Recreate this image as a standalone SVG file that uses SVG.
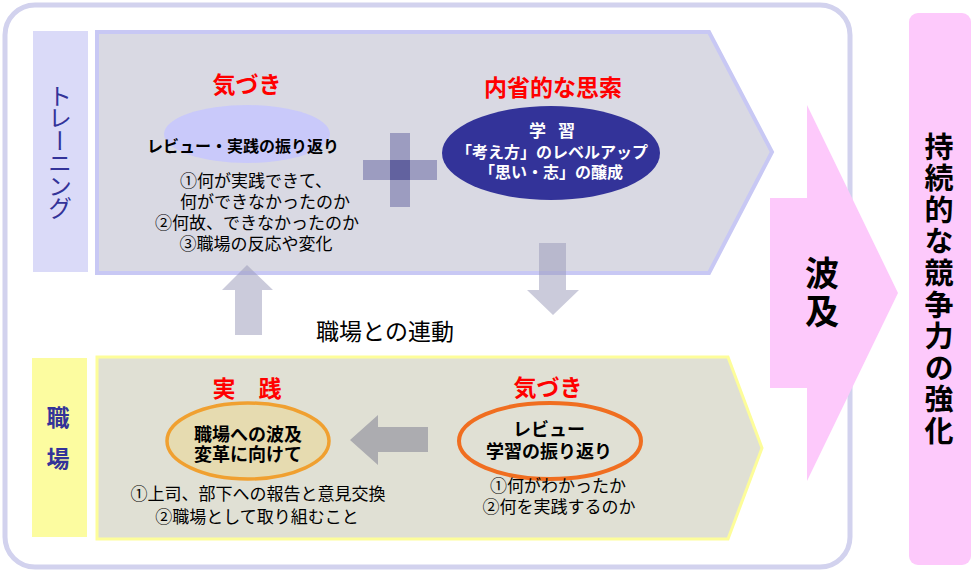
<svg xmlns="http://www.w3.org/2000/svg" width="978" height="577" viewBox="0 0 978 577">
<style>
text{font-family:"Noto Sans CJK JP","Noto Sans CJK SC",sans-serif;text-anchor:middle;fill:#000}
.b{font-weight:bold}
.red{fill:#ff0000;font-weight:bold;font-size:23px}
.lst{font-size:17px}
.wht{fill:#ffffff;font-weight:bold;font-size:16px}
.vert{writing-mode:vertical-rl}
.arr{fill:#9898b8;fill-opacity:0.5}
</style>
<rect x="0" y="0" width="978" height="577" fill="#ffffff"/>
<g id="frame">
<rect x="5" y="5" width="845" height="562" rx="30" ry="30" fill="#ffffff" stroke="#d2d2ee" stroke-width="5"/>
</g>
<g id="label-training">
<rect x="33" y="31" width="55" height="241" fill="#dadaf8"/>
<text x="60" y="151" class="vert" font-size="24" letter-spacing="-1.5" style="fill:#333399">トレーニング</text>
</g>
<g id="training-panel">
<polygon points="97,32 709,32 772,152 709,273 97,273" fill="#d9d9e3" stroke="#c8c8f4" stroke-width="4"/>
</g>
<g id="node-kizuki-top">
<ellipse cx="247" cy="134" rx="83" ry="29" fill="#c9c9fa"/>
<text x="247" y="93" class="red">気づき</text>
<text x="243" y="152" class="b" font-size="16">レビュー・実践の振り返り</text>
<text class="lst"><tspan x="256" y="187">①何が実践できて、</tspan><tspan x="265" y="208">何ができなかったのか</tspan><tspan x="257" y="229">②何故、できなかったのか</tspan><tspan x="256" y="250">③職場の反応や変化</tspan></text>
</g>
<g id="plus">
<rect x="390" y="133" width="20" height="74" fill="#9c9cc0"/>
<rect x="363" y="160" width="74" height="20" fill="#9c9cc0"/>
<rect x="390" y="160" width="20" height="20" fill="#62629f"/>
</g>
<g id="node-naisei">
<text x="553" y="96" class="red" font-size="24">内省的な思索</text>
<ellipse cx="551" cy="153" rx="109" ry="47" fill="#333399"/>
<text class="wht"><tspan x="552" y="137" font-size="17">学<tspan dx="12">習</tspan></tspan><tspan x="552" y="158">「考え方」のレベルアップ</tspan><tspan x="551" y="178">「思い・志」の醸成</tspan></text>
</g>
<g id="label-shokuba">
<rect x="32" y="358" width="55" height="179" fill="#fcfca0"/>
<text x="58" y="447" class="b vert" font-size="23" letter-spacing="18" style="fill:#333399">職場</text>
</g>
<g id="workplace-panel">
<polygon points="97,357 728,357 762,448 728,539 97,539" fill="#e0e0d4" stroke="#fdfd9a" stroke-width="3"/>
</g>
<g id="node-jissen">
<text x="247" y="397" class="red" font-size="24">実　践</text>
<ellipse cx="248" cy="441" rx="81" ry="38" fill="#e6dbb0" stroke="#f0a030" stroke-width="3.5"/>
<text class="b" font-size="18"><tspan x="248" y="441">職場への波及</tspan><tspan x="248" y="461">変革に向けて</tspan></text>
<text class="lst"><tspan x="258" y="500">①上司、部下への報告と意見交換</tspan><tspan x="257" y="523">②職場として取り組むこと</tspan></text>
</g>
<g id="node-kizuki-bottom">
<text x="548" y="396" class="red">気づき</text>
<ellipse cx="550" cy="441" rx="91" ry="38" fill="none" stroke="#f06e20" stroke-width="4"/>
<text class="b" font-size="18"><tspan x="549" y="436">レビュー</tspan><tspan x="549" y="458">学習の振り返り</tspan></text>
<text class="lst"><tspan x="558" y="492">①何がわかったか</tspan><tspan x="559" y="513">②何を実践するのか</tspan></text>
</g>
<g id="connectors">
<polygon class="arr" points="539,243 566,243 566,290 579,290 553,315 527,290 539,290"/>
<polygon class="arr" points="247,265 273,290 262,290 262,335 235,335 235,290 222,290"/>
<polygon points="350,440 378,415 378,427 428,427 428,452 378,452 378,465" fill="#acacb0"/>
<text x="385" y="340" font-size="23">職場との連動</text>
</g>
<g id="node-hakyu">
<polygon points="770,198 807,198 807,105 898,293 807,481 807,388 770,388" fill="#fdc9fb"/>
<text x="822" y="294" class="b vert" font-size="34" letter-spacing="4">波及</text>
</g>
<g id="node-result">
<rect x="909" y="13" width="62" height="552" rx="9" ry="9" fill="#fdc9fb"/>
<text x="939" y="290" class="b vert" font-size="29" letter-spacing="2.6">持続的な競争力の強化</text>
</g>
</svg>
